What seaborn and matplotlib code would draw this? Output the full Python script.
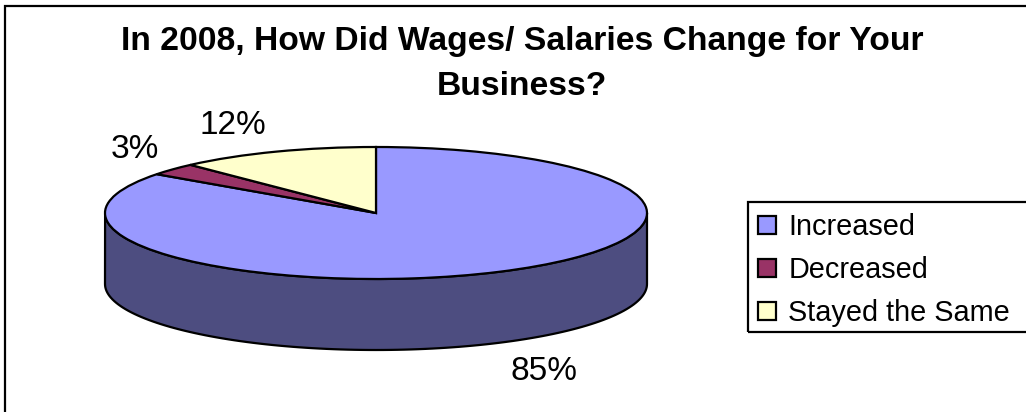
"""3D style pie: wages and salaries change in 2008."""
import numpy as np
import matplotlib
matplotlib.use("Agg")
import matplotlib.pyplot as plt
from matplotlib.patches import Patch, PathPatch, Rectangle
from matplotlib.path import Path
import seaborn as sns

categories = ["Increased", "Decreased", "Stayed the Same"]
shares = [85, 3, 12]
share_labels = ["85%", "3%", "12%"]
title = "In 2008, How Did Wages/ Salaries Change for Your\nBusiness?"

top_colors = ["#9999FF", "#993366", "#FFFFCC"]
side_color = "#4D4D80"

W, H = 1026, 412
CX, CY, RX, RY, DEPTH = 376, 213, 271, 66, 71
LINE = 1.6

sns.set_theme(style="white")
plt.rcParams["font.family"] = ["Liberation Sans", "DejaVu Sans"]

fig = plt.figure(figsize=(W / 100, H / 100), dpi=100)
ax = fig.add_axes([0, 0, 1, 1])

# top face, squashed to an ellipse by letting the aspect go free
ax.pie(shares, colors=top_colors, startangle=90, counterclock=False, radius=1,
       wedgeprops={"edgecolor": "black", "linewidth": LINE, "zorder": 3})
ax.set_aspect("auto")
ax.set_xlim(-CX / RX, (W - CX) / RX)
ax.set_ylim((CY - H) / RY, CY / RY)
ax.set_axis_on()
ax.set_xticks([])
ax.set_yticks([])
sns.despine(ax=ax, left=True, bottom=True)

# side wall under the front half of the ellipse
t = np.radians(np.linspace(180, 360, 121))
xs = np.cos(t)
ys = np.sin(t)
lower = np.column_stack([xs, ys - DEPTH / RY])
upper = np.column_stack([xs[::-1], ys[::-1]])
verts = np.vstack([lower, upper])
codes = [Path.MOVETO] + [Path.LINETO] * (len(verts) - 2) + [Path.CLOSEPOLY]
ax.add_patch(PathPatch(Path(verts, codes), facecolor=side_color, edgecolor="black",
                       linewidth=LINE, zorder=2))


def px(x, y):
    return x / W, 1 - y / H


def box(x0, y0, x1, y1):
    # outline in pixel coordinates, it may run past the picture edge
    fig.add_artist(Rectangle(px(x0, y1), (x1 - x0) / W, (y1 - y0) / H,
                             transform=fig.transFigure, fill=False,
                             edgecolor="black", linewidth=LINE))


label_pos = [(544, 372), (135, 149), (233, 126)]
for text, pos in zip(share_labels, label_pos):
    fig.text(*px(*pos), text, fontsize=24, color="black", ha="center", va="center")

fig.text(*px(522, 64), title, fontsize=24.2, fontweight="bold", color="black",
         ha="center", va="center", linespacing=1.62)

# chart frame and legend box both run off the right side
box(5, 6, 1040, 430)
box(748, 202, 1040, 332)

handles = [Patch(facecolor=c, edgecolor="black", linewidth=LINE) for c in top_colors]
fig.legend(handles, categories, loc="upper left", bbox_to_anchor=px(746, 201),
           fontsize=20.8, frameon=False, labelcolor="black", borderaxespad=0,
           handlelength=0.62, handleheight=0.62, handletextpad=0.42,
           labelspacing=0.52, borderpad=0.42)

fig.savefig("out.png", dpi=100)
